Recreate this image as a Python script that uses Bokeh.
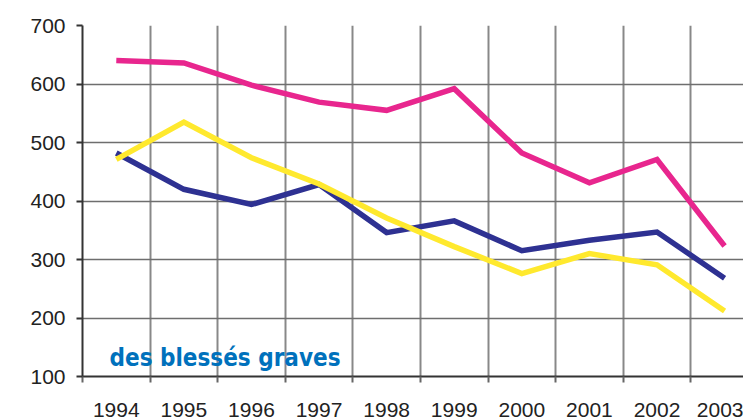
from bokeh.plotting import figure
from bokeh.models import Range1d, FixedTicker
from bokeh.core.properties import value
from bokeh.embed import file_html
from bokeh.resources import INLINE

years = [1994, 1995, 1996, 1997, 1998, 1999, 2000, 2001, 2002, 2003]
pink_values = [640, 636, 598, 569, 555, 592, 482, 431, 471, 323]
navy_values = [482, 420, 394, 428, 346, 366, 315, 333, 347, 268]
yellow_values = [471, 535, 474, 429, 371, 322, 276, 310, 291, 212]
y_ticks = [100, 200, 300, 400, 500, 600, 700]
boundaries = [y - 0.5 for y in years] + [2003.5]
caption = "des blessés graves"

p = figure(width=743, height=420, output_backend="svg", toolbar_location=None,
           x_range=Range1d(1993.5, 2003.28), y_range=Range1d(100, 700),
           min_border_left=82, min_border_right=0, min_border_top=25,
           min_border_bottom=44)
p.outline_line_color = None
p.background_fill_color = "white"
p.border_fill_color = "white"

# x axis: labels at year centres, ticks at year boundaries
p.xaxis.ticker = FixedTicker(ticks=years, minor_ticks=boundaries)
p.xaxis.major_label_overrides = {y: str(y) for y in years}
p.xaxis.major_tick_line_color = None
p.xaxis.minor_tick_line_color = "#666666"
p.xaxis.minor_tick_line_width = 2
p.xaxis.minor_tick_out = 6
p.xaxis.minor_tick_in = 0
p.xaxis.axis_line_color = "#333333"
p.xaxis.axis_line_width = 2
p.xaxis.major_label_text_font = "Liberation Sans"
p.xaxis.major_label_text_font_size = "21px"
p.xaxis.major_label_text_color = "#222222"
p.xaxis.major_label_standoff = 20

p.yaxis.ticker = FixedTicker(ticks=y_ticks)
p.yaxis.minor_tick_line_color = None
p.yaxis.major_tick_line_color = "#333333"
p.yaxis.major_tick_line_width = 2
p.yaxis.major_tick_out = 6
p.yaxis.major_tick_in = 0
p.yaxis.axis_line_color = "#333333"
p.yaxis.axis_line_width = 2
p.yaxis.major_label_text_font = "Liberation Sans"
p.yaxis.major_label_text_font_size = "21px"
p.yaxis.major_label_text_color = "#222222"
p.yaxis.major_label_standoff = 11

p.xgrid.grid_line_color = None
p.xgrid.minor_grid_line_color = "#888888"
p.xgrid.minor_grid_line_width = 2
p.ygrid.grid_line_color = "#6e6e6e"
p.ygrid.grid_line_width = 1.6

p.line(years, pink_values, line_color="#E8268E", line_width=5.5, line_join="miter")
p.line(years, navy_values, line_color="#2E3192", line_width=5.5, line_join="miter")
p.line(years, yellow_values, line_color="#FFE92E", line_width=5.5, line_join="miter")

p.text(x=[1993.9], y=[132], text=[caption],
       text_font=value("'Liberation Sans Narrow', 'DejaVu Sans Condensed', sans-serif"),
       text_font_style="bold", text_font_size="24px", text_color="#0071BC",
       text_baseline="alphabetic", text_align="left")

open("out.html", "w").write(file_html(p, INLINE))
